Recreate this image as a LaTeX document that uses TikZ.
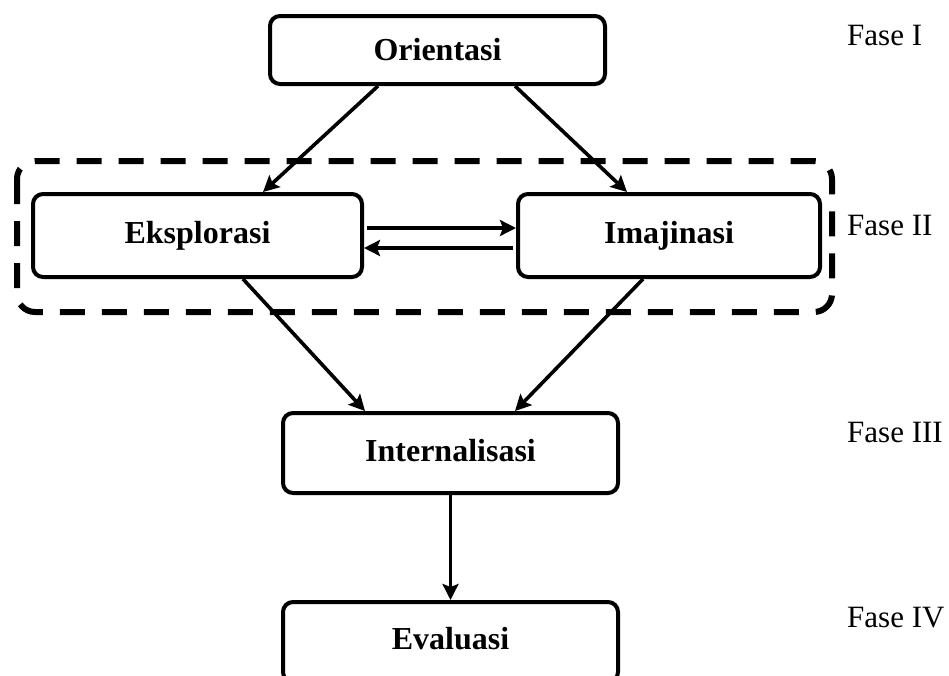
\documentclass[tikz,border=0pt]{standalone}
\usepackage{fontspec}
\setmainfont{Liberation Serif}
\usetikzlibrary{arrows.meta}
\begin{document}
\begin{tikzpicture}[x=1pt,y=-1pt,
  box/.style={draw, line width=4pt, rounded corners=10pt, font=\fontsize{32}{38}\selectfont\bfseries, inner sep=0pt},
  fase/.style={font=\fontsize{31}{37}\selectfont, inner sep=0pt},
  conn/.style={line width=3.6pt, -{Stealth[length=16pt,width=16pt,inset=3pt]}},
  grp/.style={line width=6pt, dash pattern=on 25pt off 17pt, rounded corners=18pt}]
\useasboundingbox (0,0) rectangle (949,675);
\clip (0,0) rectangle (949,675);
% group
\draw[grp] (17,161) rectangle (832,312);
% boxes
\node[box, minimum width=335pt, minimum height=68pt] (o) at (437.5,50) {Orientasi};
\node[box, minimum width=329pt, minimum height=83pt] (e) at (197.5,235.5) {\raisebox{6pt}{Eksplorasi}};
\node[box, minimum width=302pt, minimum height=83pt] (i) at (669,235.5) {\raisebox{6pt}{Imajinasi}};
\node[box, minimum width=335pt, minimum height=80pt] (n) at (450.5,453) {\raisebox{6pt}{Internalisasi}};
\node[box, minimum width=335pt, minimum height=80pt] (v) at (450.5,642) {\raisebox{8pt}{Evaluasi}};
% phase labels
\node[fase, anchor=base west] (f1) at (847,45) {Fase I};
\node[fase, anchor=base west] (f2) at (847,235) {Fase II};
\node[fase, anchor=base west] (f3) at (847,442) {Fase III};
\node[fase, anchor=base west] (f4) at (847,627) {Fase IV};
% connectors
\draw[conn] ([xshift=110pt]o.south west) -- ([xshift=232pt]e.north west);
\draw[conn] ([xshift=247pt]o.south west) -- ([xshift=111pt]i.north west);
\draw[conn] ([yshift=7.5pt,xshift=3pt]e.east) -- ([yshift=7.5pt]i.west);
\draw[conn] ([yshift=-12.5pt,xshift=-3pt]i.west) -- ([yshift=-12.5pt]e.east);
\draw[conn] ([xshift=212pt]e.south west) -- ([xshift=84pt]n.north west);
\draw[conn] ([xshift=127pt]i.south west) -- ([xshift=234pt]n.north west);
\draw[conn] (n.south) -- (v.north);
\end{tikzpicture}
\end{document}
